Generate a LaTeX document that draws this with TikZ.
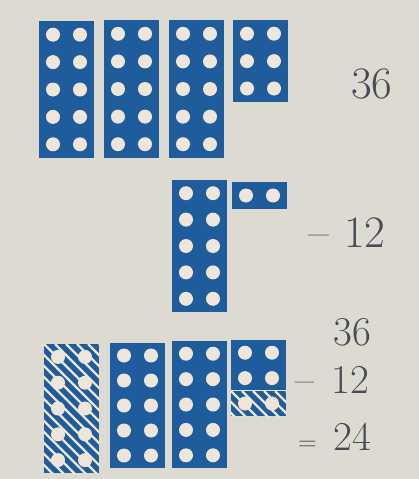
\documentclass[tikz,border=0pt]{standalone}
\usepackage{fontspec}
\usetikzlibrary{positioning}

\definecolor{paper}{HTML}{DDDAD2}
\definecolor{rodblue}{HTML}{1F5C9B}
\definecolor{holecol}{HTML}{EEE6DA}
\definecolor{inkgrey}{HTML}{474B55}

% x, y, rows, row pitch
\newcommand{\dotrod}[4]{%
  \fill[rodblue] (#1,#2) rectangle ++(55,{#3*#4});
  \foreach \r in {1,...,#3}
    \foreach \c in {14,41}
      \fill[holecol] ({#1+\c},{#2+(\r-0.5)*#4}) circle (7pt);
}
% x, y, width, height
\newcommand{\hatchover}[4]{%
  \begin{scope}
    \clip (#1,#2) rectangle ++(#3,#4);
    \foreach \k in {-154,-143,...,60}
      \draw[holecol,line width=2.2pt] ({#1+\k},#2) -- ++(170,170);
  \end{scope}
}

\begin{document}
\begin{tikzpicture}[x=1pt,y=-1pt,
  num/.style={inkgrey,inner sep=0pt,
    font=\fontsize{45}{50}\selectfont\addfontfeatures{LetterSpace=8,FakeBold=0.3}},
  numsmall/.style={num,
    font=\fontsize{41}{46}\selectfont\addfontfeatures{LetterSpace=8,FakeBold=0.3}},
  opsmall/.style={num,font=\fontsize{26}{30}\selectfont\addfontfeatures{FakeBold=0.3}}]
  \fill[paper] (0,0) rectangle (419,479);
  \useasboundingbox (0,0) rectangle (419,479);

  % 36
  \dotrod{39}{21}{5}{27.4}
  \dotrod{104}{20}{5}{27.6}
  \dotrod{169}{20}{5}{27.6}
  \dotrod{233}{20}{3}{27.4}
  \node[num,anchor=base west] (topsum) at (351,98) {36};

  % 12 taken away
  \dotrod{172}{180}{5}{26.4}
  \dotrod{232}{182}{1}{27}
  \node[num,anchor=base west] (subnum) at (344,247) {12};
  \node[num,left=15pt of subnum.base west,anchor=base east] (subop) {–};

  % 36 - 12 = 24
  \dotrod{44}{344}{5}{25.8}
  \hatchover{44}{344}{55}{129}
  \dotrod{110}{343}{5}{25}
  \dotrod{172}{341}{5}{25.4}
  \dotrod{231}{340}{3}{25.4}
  \hatchover{231}{391}{55}{25}
  \draw[holecol,line width=1.5pt] (231,390.5) -- ++(55,0);

  \node[numsmall,anchor=base west] (sumb) at (333,345) {36};
  \node[numsmall,anchor=base west] (subb) at (331,393) {12};
  \node[numsmall,left=16pt of subb.base west,anchor=base east] (subopb) {–};
  \node[numsmall,anchor=base west] (diffb) at (333,450) {24};
  \node[opsmall,left=16pt of diffb.base west,anchor=base east] (eqb) {=};
\end{tikzpicture}
\end{document}
